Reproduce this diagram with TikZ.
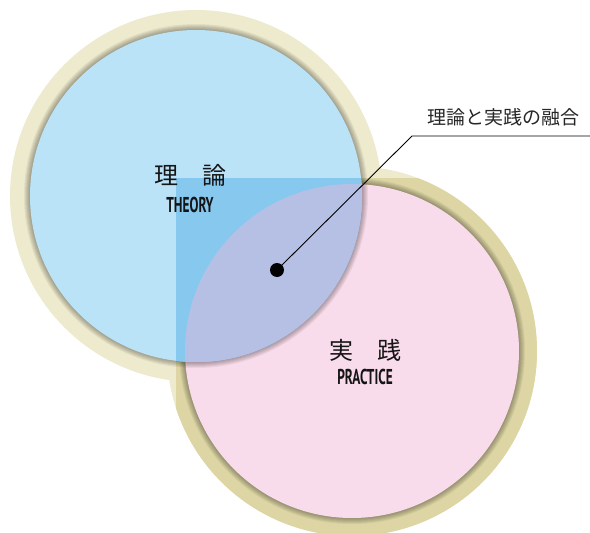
\documentclass[tikz,border=0pt]{standalone}
\usepackage{fontspec}
\newfontfamily\jpfont{Noto Sans CJK JP}
\newfontfamily\condfont[FakeStretch=0.62]{PT Sans}
\definecolor{ringlight}{HTML}{EEEACD}
\definecolor{ringdark}{HTML}{DDD5A4}
\definecolor{theoryblue}{HTML}{BBE3F8}
\definecolor{theorydark}{HTML}{87C8EF}
\definecolor{lensc}{HTML}{B5C0E4}
\definecolor{practicepink}{HTML}{F9DCEB}
\definecolor{inkc}{HTML}{151515}
\tikzset{
  jplabel/.style={font=\jpfont\fontsize{24}{24}\selectfont, text=inkc, inner sep=0pt},
  enlabel/.style={font=\condfont\bfseries\fontsize{21.5}{21.5}\selectfont, text=inkc, inner sep=0pt},
  calloutlabel/.style={font=\jpfont\fontsize{19}{19}\selectfont, text=black!85, inner sep=0pt},
  shadowlayer/.style={fill=black, opacity=0.055},
  leader/.style={draw=black, line width=0.9pt},
}
\begin{document}
\begin{tikzpicture}[x=1pt,y=-1pt]
\useasboundingbox (0,0) rectangle (590,533);
\coordinate (T) at (196,196);
\coordinate (P) at (352,351);
% outer rings
\fill[ringlight] (T) circle[radius=186pt];
\fill[ringlight] (P) circle[radius=185pt];
\begin{scope}
  \clip (176,178) rectangle (600,600);
  \fill[ringdark] (T) circle[radius=186pt];
  \fill[ringdark] (P) circle[radius=185pt];
\end{scope}
% shadow of practice circle
\foreach \k in {1,...,12} {
  \fill[shadowlayer, shift={(5,5)}] (P) circle[radius={161pt+\k*1pt}];
}
\fill[practicepink] (P) circle[radius=167pt];
% shadow of theory circle
\foreach \k in {1,...,12} {
  \fill[shadowlayer, shift={(5,5)}] (T) circle[radius={160pt+\k*1pt}];
}
\fill[theoryblue] (T) circle[radius=166pt];
\begin{scope}
  \clip (T) circle[radius=166pt];
  \fill[theorydark] (176,178) rectangle (600,600);
  \fill[lensc] (P) circle[radius=167pt];
\end{scope}
% texts
\node[jplabel] (tjp) at (190,175) {理　論};
\node[enlabel] (ten) at (190,205) {THEORY};
\node[jplabel] (pjp) at (365,350) {実　践};
\node[enlabel] (pen) at (365,377) {PRACTICE};
\node[calloutlabel] (fusion) at (503,117) {理論と実践の融合};
% callout
\node[circle, fill=black, inner sep=0pt, minimum size=14pt] (dot) at (277,270) {};
\coordinate (knee) at (412,136);
\coordinate (edge) at (590,136);
\draw[leader] (dot.center) -- (knee) -- (edge);
\end{tikzpicture}
\end{document}
